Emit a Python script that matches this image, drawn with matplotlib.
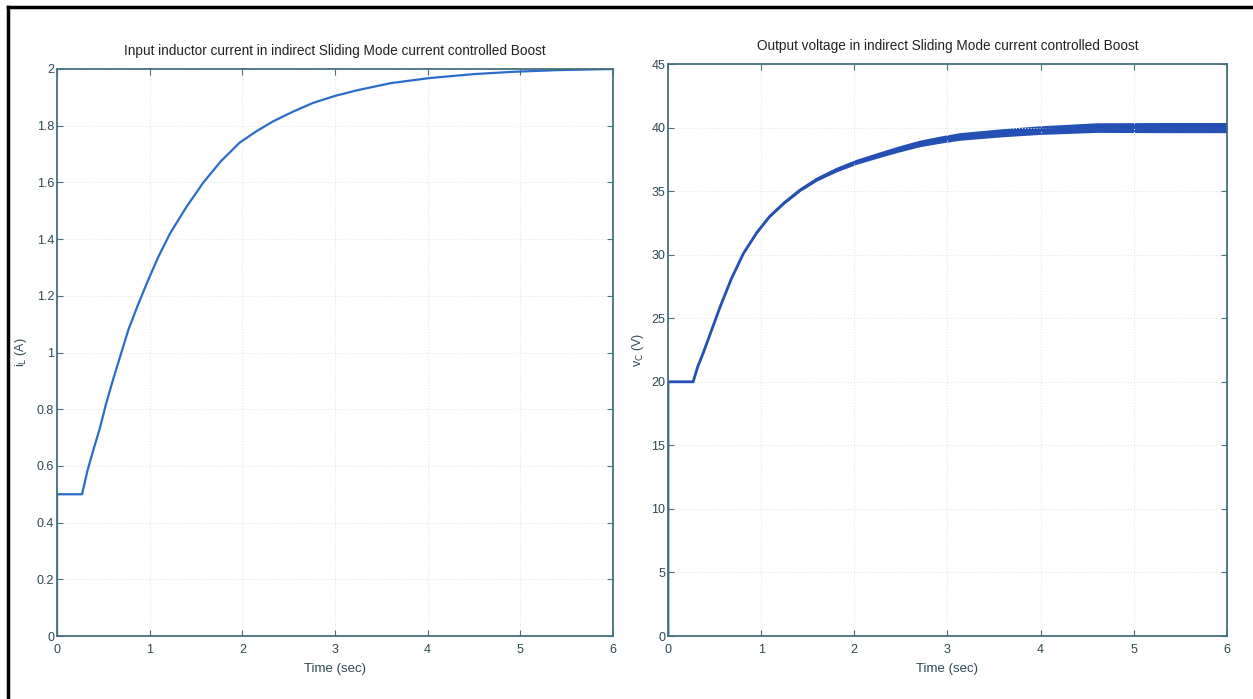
import numpy as np
import matplotlib
matplotlib.use('Agg')
import matplotlib.pyplot as plt
from matplotlib.lines import Line2D

plt.rcParams['font.family'] = ['Liberation Sans', 'DejaVu Sans']

# inductor current (left panel)
t_il = [0, 0, 0.27, 0.33, 0.40, 0.46, 0.53, 0.61, 0.69, 0.77, 0.87, 0.97, 1.09, 1.22, 1.40, 1.58,
        1.77, 1.97, 2.15, 2.33, 2.55, 2.76, 3.0, 3.24, 3.6, 4.02, 4.5, 4.92, 5.4, 6.0]
il = [0, 0.5, 0.5, 0.585, 0.665, 0.73, 0.82, 0.91, 0.995, 1.08, 1.165, 1.245, 1.335, 1.42, 1.515, 1.60,
      1.675, 1.74, 1.78, 1.815, 1.85, 1.88, 1.905, 1.925, 1.95, 1.968, 1.982, 1.99, 1.996, 2.0]

# output voltage (right panel) + ripple half width
t_vc = [0, 0, 0.27, 0.32, 0.38, 0.46, 0.56, 0.68, 0.81, 0.95, 1.09, 1.25, 1.42, 1.6, 1.81, 2.02,
        2.24, 2.47, 2.70, 2.92, 3.13, 3.36, 3.6, 3.99, 4.3, 4.6, 5.3, 6.0]
vc = [0, 20, 20, 21.2, 22.3, 23.9, 25.9, 28.1, 30.1, 31.7, 33.0, 34.1, 35.1, 35.95, 36.7, 37.3,
      37.8, 38.3, 38.75, 39.05, 39.3, 39.45, 39.6, 39.8, 39.9, 40.0, 40.0, 40.0]
ripple = [0, 0, 0, 0, 0, 0, 0, 0.02, 0.04, 0.06, 0.08, 0.1, 0.12, 0.15, 0.18, 0.2,
          0.22, 0.24, 0.26, 0.28, 0.3, 0.31, 0.32, 0.34, 0.36, 0.38, 0.4, 0.4]

il_ticks = [0, 0.2, 0.4, 0.6, 0.8, 1, 1.2, 1.4, 1.6, 1.8, 2]
vc_ticks = [0, 5, 10, 15, 20, 25, 30, 35, 40, 45]
t_ticks = [0, 1, 2, 3, 4, 5, 6]

spine_col = '#46707c'
text_col = '#2c4853'

fig = plt.figure(figsize=(12.53, 6.99), dpi=100)
ax1 = fig.add_axes([0.0455, 0.0901, 0.4437, 0.8112])
ax2 = fig.add_axes([0.5331, 0.0901, 0.4461, 0.8183])

def style(ax):
    for s in ax.spines.values():
        s.set_color(spine_col)
        s.set_linewidth(1.3)
    ax.tick_params(direction='in', top=True, right=True, length=4, color=spine_col,
                   labelsize=9, labelcolor=text_col, pad=2)
    ax.tick_params(axis='x', pad=6)
    ax.grid(True, linestyle=':', color='#dfe7ef', linewidth=0.8)
    ax.set_xlim(0, 6)
    ax.set_xticks(t_ticks)
    ax.set_xlabel('Time (sec)', fontsize=9.5, color=text_col, labelpad=5)

ax1.plot(t_il, il, color='#2a6cc8', lw=1.6)
ax1.set_ylim(0, 2)
ax1.set_yticks(il_ticks)
ax1.set_yticklabels(['0', '0.2', '0.4', '0.6', '0.8', '1', '1.2', '1.4', '1.6', '1.8', '2'])
style(ax1)
ax1.set_ylabel(r'i$_\mathrm{L}$ (A)', fontsize=9, color=text_col, labelpad=6)
ax1.set_title('Input inductor current in indirect Sliding Mode current controlled Boost',
              fontsize=9.8, color='#222222', pad=10)

vc_a = np.array(vc)
rp = np.array(ripple)
ax2.fill_between(t_vc, vc_a - rp, vc_a + rp, color='#2450b4', lw=0)
ax2.plot(t_vc, vc, color='#2450b4', lw=2.0)
ax2.set_ylim(0, 45)
ax2.set_yticks(vc_ticks)
style(ax2)
ax2.set_ylabel(r'v$_\mathrm{C}$ (V)', fontsize=9, color=text_col, labelpad=4)
ax2.set_title('Output voltage in indirect Sliding Mode current controlled Boost',
              fontsize=9.8, color='#222222', pad=10)

# black frame (left and top edges of the page crop)
fig.add_artist(Line2D([0.0064, 0.0064], [0, 0.99], transform=fig.transFigure, color='black', lw=2.5))
fig.add_artist(Line2D([0.0064, 1.0], [0.99, 0.99], transform=fig.transFigure, color='black', lw=2.5))

fig.savefig('out.png', dpi=100)
